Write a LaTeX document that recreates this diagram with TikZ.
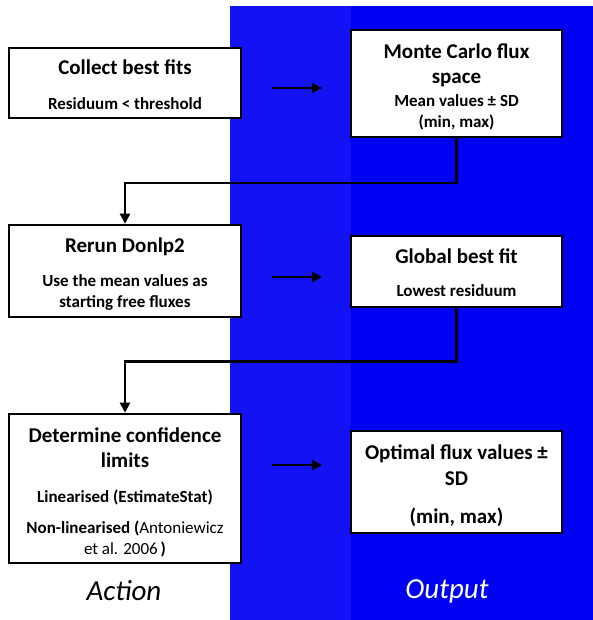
\documentclass[tikz,border=0pt]{standalone}
\usepackage{fontspec}
\setmainfont{Carlito}
\usetikzlibrary{arrows.meta}
\definecolor{laneA}{RGB}{18,18,244}
\definecolor{laneB}{RGB}{0,0,242}
\newcommand{\ttl}{\fontsize{21}{26}\selectfont}
\newcommand{\sub}{\fontsize{17}{21}\selectfont}
% extra room above a first line, pushing the text block down by half of it
\newcommand{\lift}[2]{\raisebox{0pt}[\dimexpr\height+#1\relax]{#2}}
\tikzset{
  box/.style={draw=black, line width=2.6pt, fill=white, align=center,
    font=\bfseries\sub, inner sep=0pt},
  link/.style={line width=2.6pt, -{Triangle[length=10pt,width=10pt]}},
  flow/.style={line width=2.4pt, -{Triangle[length=10pt,width=10pt]}},
  lane/.style={font=\itshape\fontsize{29}{34}\selectfont}
}
\begin{document}
\begin{tikzpicture}[x=1pt,y=-1pt]
\useasboundingbox (0,0) rectangle (593,620);
% background lanes
\fill[laneA] (230,6) rectangle (351,620);
\fill[laneB] (351,6) rectangle (593,620);

% action column
\node[box, minimum width=232pt, minimum height=70pt] (b1) at (125,83)
  {{\ttl\lift{4pt}{Collect best fits}}\\[14pt] Residuum < threshold};
\node[box, minimum width=232pt, minimum height=92pt] (b2) at (125,271)
  {{\ttl\lift{6pt}{Rerun Donlp2}}\\[13pt] Use the mean values as\\ starting free fluxes};
\node[box, minimum width=232pt, minimum height=149pt] (b3) at (125,488.5)
  {{\ttl\lift{8pt}{Determine confidence}}\\[4pt] {\ttl limits}\\[14pt] Linearised (EstimateStat)\\[10pt]
   Non-linearised ({\mdseries Antoniewicz}\\ {\mdseries et al. 2006}\,)};

% output column
\node[box, minimum width=211pt, minimum height=107pt] (o1) at (456.5,83.5)
  {{\ttl\lift{6pt}{Monte Carlo flux}}\\[4pt] {\ttl space}\\[2pt] Mean values ± SD\\ (min, max)};
\node[box, minimum width=211pt, minimum height=71pt] (o2) at (456.5,271.5)
  {{\ttl\lift{2pt}{Global best fit}}\\[12pt] Lowest residuum};
\node[box, minimum width=211pt, minimum height=102pt] (o3) at (456.5,482)
  {{\ttl\lift{7pt}{Optimal flux values ±}}\\[5pt] {\ttl SD}\\[17pt] {\ttl (min, max)}};

% arrows from each action to its output
\coordinate (a1s) at (272,88);  \coordinate (a1e) at (322,88);
\coordinate (a2s) at (272,277); \coordinate (a2e) at (322,277);
\coordinate (a3s) at (272,465); \coordinate (a3e) at (322,465);
\draw[link] (a1s) -- (a1e);
\draw[link] (a2s) -- (a2e);
\draw[link] (a3s) -- (a3e);

% feedback from outputs to the next action
\draw[flow] (o1.south) -- ++(0,45) -| (b2.north);
\draw[flow] (o2.south) -- ++(0,53) -| (b3.north);

% column captions
\node[lane] (la) at (124,591) {Action};
\node[lane, text=white] (lo) at (447,591) {Output};
\end{tikzpicture}
\end{document}
